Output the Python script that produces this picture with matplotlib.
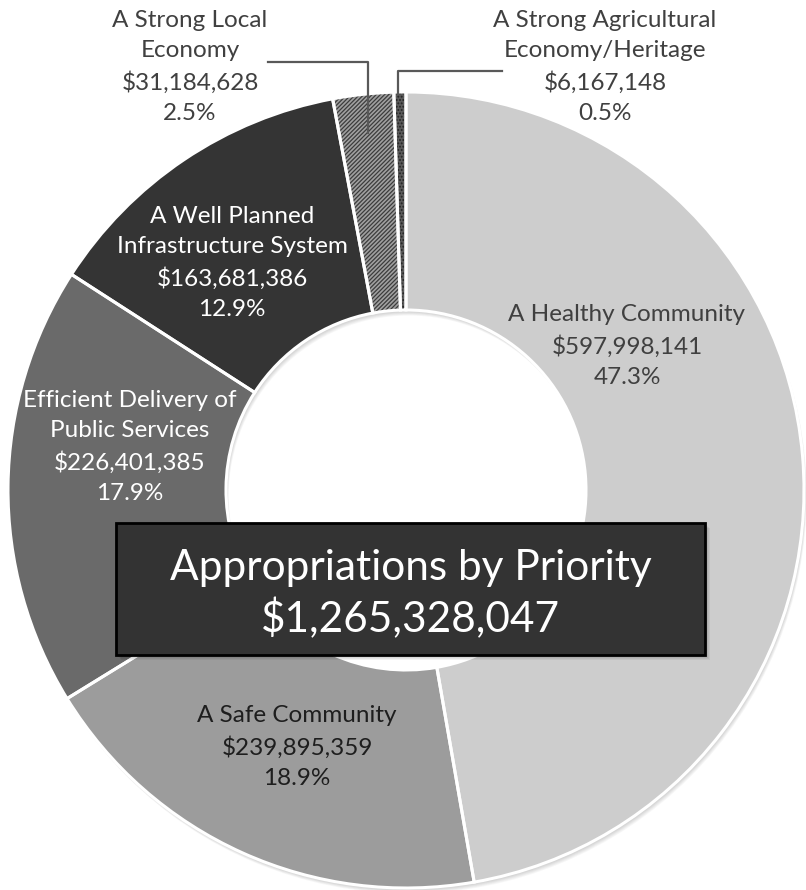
import numpy as np
import matplotlib.pyplot as plt
from matplotlib.patches import Wedge, Rectangle

plt.rcParams['font.family'] = ['Lato', 'DejaVu Sans']
plt.rcParams['hatch.linewidth'] = 0.9

names = ['A Healthy Community',
         'A Safe Community',
         'Efficient Delivery of\nPublic Services',
         'A Well Planned\nInfrastructure System',
         'A Strong Local\nEconomy',
         'A Strong Agricultural\nEconomy/Heritage']
amounts = [597998141, 239895359, 226401385, 163681386, 31184628, 6167148]
pct_labels = ['47.3%', '18.9%', '17.9%', '12.9%', '2.5%', '0.5%']
title = 'Appropriations by Priority'

colors = ['#cdcdcd', '#9c9c9c', '#6a6a6a', '#343434', '#a0a0a0', '#5a5a5a']
hatches = ['', '', '', '', '////////', '.....']
hatch_cols = [None, None, None, None, '#3c3c3c', '#222222']
txt_colors = ['#404040', '#1e1e1e', 'white', 'white', '#404040', '#404040']

W, H = 806, 890
fig = plt.figure(figsize=(W / 100, H / 100), dpi=100)
ax = fig.add_axes([0, 0, 1, 1])

def py(y):
    # pixel row (from top) -> data y
    return H - y

cx, cy = 406, py(490)
R, r_in = 398, 180

# soft drop shadow under the ring
for d in range(1, 8):
    ax.add_patch(Wedge((cx + 0.4 * d, cy - 0.8 * d), R, 0, 360, width=R - r_in,
                       facecolor='black', alpha=0.03, lw=0, zorder=1))

wedges, _ = ax.pie(amounts, colors=colors, startangle=90, counterclock=False,
                   center=(cx, cy), radius=R, frame=True,
                   wedgeprops=dict(width=R - r_in, lw=0))
for w, h, hc in zip(wedges, hatches, hatch_cols):
    w.set_zorder(2)
    if h:
        w.set_hatch(h)
        w.set_edgecolor(hc)
        w.set_linewidth(0)

# white separators and rims
ax.pie(amounts, colors=['none'] * len(amounts), startangle=90, counterclock=False,
       center=(cx, cy), radius=R, frame=True,
       wedgeprops=dict(width=R - r_in, lw=2.2, edgecolor='white', zorder=3))

ax.set_xlim(0, W)
ax.set_ylim(0, H)
ax.set_aspect('equal')
ax.axis('off')

# data labels
label_xy = [(627, 346), (297, 747), (130, 447), (232, 263), (190, 67), (605, 67)]
for name, amt, pct, (x, y), c in zip(names, amounts, pct_labels, label_xy, txt_colors):
    s = f'{name}\n${amt:,}\n{pct}'
    ax.text(x, py(y), s, ha='center', va='center', fontsize=17.5, color=c,
            linespacing=1.55, zorder=5)

# leader lines for the two thin slices
ax.plot([268, 368, 368], [py(62), py(62), py(133)], color='#595959', lw=1.6, zorder=4)
ax.plot([502, 398, 398], [py(71), py(71), py(93)], color='#595959', lw=1.6, zorder=4)

# centre title box
bx0, by0, bx1, by1 = 116, 523, 705, 655
for d in range(1, 6):
    ax.add_patch(Rectangle((bx0 + d, py(by1) - d), bx1 - bx0, by1 - by0,
                           facecolor='black', alpha=0.05, lw=0, zorder=5))
ax.add_patch(Rectangle((bx0, py(by1)), bx1 - bx0, by1 - by0, facecolor='#333333',
                       edgecolor='black', lw=2, zorder=6))
total = sum(amounts)
ax.text((bx0 + bx1) / 2, py((by0 + by1) / 2 + 5), f'{title}\n${total:,}',
        ha='center', va='center', fontsize=30.5, color='white', linespacing=1.3, zorder=7)

fig.savefig('out.png', dpi=100)
